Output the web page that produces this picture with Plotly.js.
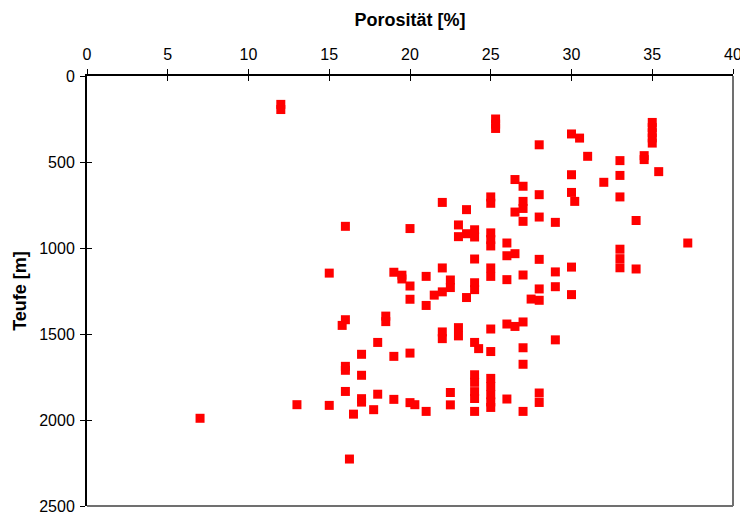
<!DOCTYPE html>
<html>
<head>
<meta charset="utf-8">
<script src="https://cdn.plot.ly/plotly-3.0.1.min.js"></script>
<style>html,body{margin:0;padding:0;background:#fff;}#chart{width:740px;height:515px;}</style>
</head>
<body>
<div id="chart"></div>
<script>
// Porosität [%] (x) and Teufe [m] (y)
const porosity = [
  12, 12, 25.3, 25.3, 25.3, 30, 30.5, 28, 35, 35, 35, 35, 35,
  31, 33, 34.5, 34.5, 35.4, 30, 33, 32, 26.5, 27, 28, 30, 30.2, 33,
  25, 25, 27, 27, 22, 23.5, 26.5, 28, 27, 29, 34,
  16, 20, 23, 24, 23.5, 24, 23, 25, 25, 25, 26, 26, 26.5, 28, 24,
  37.2, 33, 33, 33, 34, 30, 29,
  15, 19, 19.5, 19.5, 21, 22, 25, 25, 27, 26, 22.5, 22.5, 24, 24, 20, 28, 29,
  22, 21.5, 20, 21, 23.5, 30, 27.5, 28,
  16, 15.8, 18.5, 18.5, 22, 22, 23, 23, 25, 26, 26.5, 27,
  18, 24, 24.25, 25, 27, 29, 17, 19, 20, 27, 16, 16, 17,
  24, 24, 24, 24, 24, 25, 25, 25, 25, 25,
  16, 18, 17, 17, 19, 20, 20.3, 22.5, 22.5, 26, 28, 28, 27, 21,
  13, 15, 17.75, 16.5, 7, 16.25
];
const depth = [
  165, 195, 250, 280, 305, 337, 361, 400, 270, 300, 330, 360, 390,
  467, 492, 463, 486, 556, 574, 578, 618, 602, 641, 690, 677, 729, 703,
  703, 740, 729, 770, 735, 777, 791, 820, 845, 851, 840,
  874, 887, 866, 894, 917, 936, 934, 912, 951, 988, 971, 1045, 1033, 1066, 1064,
  971, 1007, 1062, 1115, 1122, 1111, 1139,
  1146, 1141, 1158, 1180, 1165, 1116, 1116, 1165, 1157, 1184, 1186, 1230, 1202, 1242, 1221, 1238, 1225,
  1255, 1274, 1298, 1334, 1288, 1271, 1297, 1304,
  1417, 1450, 1396, 1428, 1488, 1527, 1463, 1511, 1471, 1442, 1456, 1430,
  1549, 1549, 1585, 1602, 1580, 1534, 1618, 1630, 1611, 1676, 1688, 1711, 1740,
  1737, 1781, 1835, 1875, 1950, 1758, 1805, 1853, 1895, 1927,
  1834, 1850, 1876, 1896, 1880, 1899, 1911, 1840, 1912, 1878, 1843, 1898, 1950, 1950,
  1911, 1915, 1940, 1966, 1990, 2227
];
const xTicks = [0, 5, 10, 15, 20, 25, 30, 35, 40];
const yTicks = [0, 500, 1000, 1500, 2000, 2500];
const xTitle = 'Porosität [%]';
const yTitle = 'Teufe [m]';

const tickFont = {family: 'Liberation Sans, Arial, sans-serif', size: 16, color: '#000'};
const titleFont = {family: 'Liberation Sans, Arial, sans-serif', size: 18, color: '#000', weight: 'bold'};

const traces = [
  {
    type: 'scatter', mode: 'markers', x: porosity, y: depth,
    marker: {symbol: 'square', size: 9, color: '#ff0000', line: {width: 0}},
    hoverinfo: 'x+y', showlegend: false
  },
  {type: 'scatter', mode: 'markers', x: [], y: [], xaxis: 'x2', yaxis: 'y2', showlegend: false}
];

const layout = {
  width: 740, height: 515,
  margin: {l: 87, r: 7, t: 76, b: 9, pad: 0},
  paper_bgcolor: '#fff', plot_bgcolor: '#fff',
  showlegend: false,
  xaxis: {
    side: 'top', range: [0, 40], tickvals: xTicks, ticktext: xTicks.map(String),
    showgrid: false, zeroline: false, showline: true, linecolor: '#000', linewidth: 2,
    ticks: 'outside', ticklen: 5, tickwidth: 1, tickcolor: '#000',
    tickfont: tickFont, ticklabelstandoff: 3, ticklabeloverflow: 'allow',
    title: {text: xTitle, font: titleFont, standoff: 14}
  },
  yaxis: {
    range: [2500, 0], tickvals: yTicks, ticktext: yTicks.map(String),
    showgrid: false, zeroline: false, showline: true, linecolor: '#000', linewidth: 2,
    ticks: 'outside', ticklen: 5, tickwidth: 1, tickcolor: '#000',
    tickfont: tickFont, ticklabelstandoff: 2, ticklabeloverflow: 'allow',
    title: {text: yTitle, font: titleFont, standoff: 8}
  },
  xaxis2: {
    overlaying: 'x', matches: 'x', side: 'top', anchor: 'y2', range: [0, 40], tickvals: xTicks,
    showticklabels: false, showgrid: false, zeroline: false, showline: false,
    ticks: 'inside', ticklen: 5, tickwidth: 1, tickcolor: '#000'
  },
  yaxis2: {
    overlaying: 'y', matches: 'y', side: 'left', anchor: 'x2', range: [2500, 0], tickvals: yTicks,
    showticklabels: false, showgrid: false, zeroline: false, showline: false,
    ticks: 'inside', ticklen: 5, tickwidth: 1, tickcolor: '#000'
  },
  shapes: [
    {type: 'line', xref: 'paper', yref: 'paper', x0: 1, x1: 1, y0: 0, y1: 1, line: {color: '#707070', width: 2}},
    {type: 'line', xref: 'paper', yref: 'paper', x0: 0, x1: 1, y0: 0, y1: 0, line: {color: '#707070', width: 2}}
  ]
};

Plotly.newPlot('chart', traces, layout, {displayModeBar: false, staticPlot: true});
</script>
</body>
</html>
